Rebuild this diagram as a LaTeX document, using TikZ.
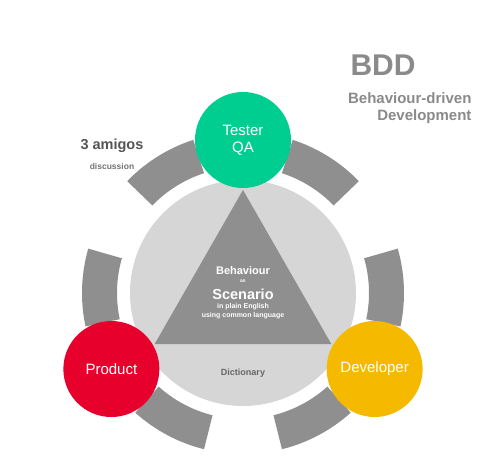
\documentclass[tikz,border=0pt]{standalone}
\usepackage{fontspec}
\setmainfont{Liberation Sans}
\definecolor{testergreen}{RGB}{0, 206, 145}
\definecolor{productred}{RGB}{232, 0, 45}
\definecolor{devyellow}{RGB}{245, 185, 0}
\definecolor{segray}{RGB}{143, 143, 143}
\definecolor{lightgray1}{RGB}{214, 214, 214}
\definecolor{titlegray}{RGB}{138, 138, 138}
\usetikzlibrary{positioning, calc}

\tikzset{
  role/.style={circle, minimum size=96pt, inner sep=0pt, text=white, font=\fontsize{15}{17}\selectfont, align=center},
  seg/.style={fill=segray}
}

\begin{document}
\begin{tikzpicture}[x=1pt, y=1pt]
  \useasboundingbox (-243,-182) rectangle (244,293);

  % ring segments, two in every gap between the roles
  \foreach \a in {90, 210, 330} {
    \foreach \s/\e in {18/46, -46/-18} {
      \fill[seg] (\a+\s:126) arc[start angle=\a+\s, end angle=\a+\e, radius=126]
        -- (\a+\e:161) arc[start angle=\a+\e, end angle=\a+\s, radius=161] -- cycle;
    }
  }

  \fill[lightgray1] (0,0) circle (113);
  \fill[segray] (90:103) -- (210:102) -- (330:102) -- cycle;

  \node[role, fill=testergreen] (tester) at (90:153) {Tester\\QA};
  \node[role, fill=productred] (product) at (210:152) {Product};
  \node[role, fill=devyellow] (developer) at (330:152) {Developer};

  \node[text=white, font=\bfseries\fontsize{11}{13}\selectfont] (behaviour) at (0,22) {Behaviour};
  \node[text=white, font=\bfseries\fontsize{5}{6}\selectfont] (as) at (0,11.5) {as};
  \node[text=white, font=\bfseries\fontsize{14.5}{16}\selectfont] (scenario) at (0,-1) {Scenario};
  \node[text=white, font=\bfseries\fontsize{7}{9}\selectfont, align=center] (plain) at (0,-18.5)
    {in plain English\\using common language};

  \node[text=black!60, font=\bfseries\fontsize{9}{11}\selectfont] (dictionary) at (0,-80) {Dictionary};

  \node[text=black!67, font=\bfseries\fontsize{14.5}{17}\selectfont] (amigos) at (-131,147) {3 amigos};
  \node[text=black!55, font=\bfseries\fontsize{8.5}{10}\selectfont] (discussion) at (-131,127) {discussion};

  \node[text=titlegray, font=\bfseries\fontsize{30}{32}\selectfont] (bdd) at (140,228) {BDD};
  \node[text=titlegray, font=\bfseries\fontsize{15}{17}\selectfont, align=right, anchor=east] (bddlong) at (232,184.5)
    {Behaviour-driven\\Development};
\end{tikzpicture}
\end{document}
